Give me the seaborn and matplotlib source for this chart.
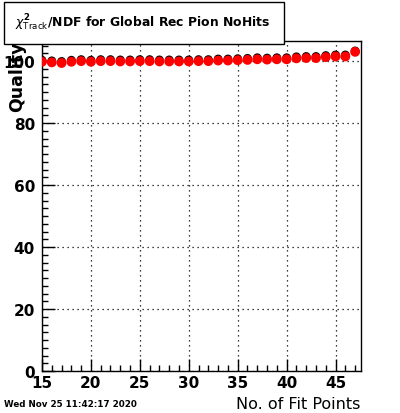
import matplotlib
matplotlib.use("Agg")
import matplotlib.pyplot as plt
import seaborn as sns
import numpy as np
from matplotlib.ticker import MultipleLocator
from matplotlib.patches import Rectangle

fit_points = list(range(15, 48))
quality_red = [99.8, 99.6, 99.4, 99.8, 100.0, 99.8, 100.0, 100.0, 99.9, 99.9,
               100.0, 100.0, 99.9, 99.9, 99.9, 99.9, 100.0, 100.0, 100.2, 100.2,
               100.3, 100.4, 100.6, 100.5, 100.6, 100.6, 100.9, 101.0, 101.0, 101.3,
               101.5, 101.5, 103.0]
quality_black = [100.3, 100.1, 99.9, 100.3, 100.5, 100.3, 100.5, 100.5, 100.4, 100.4,
                 100.5, 100.5, 100.4, 100.4, 100.4, 100.4, 100.5, 100.5, 100.7, 100.7,
                 100.8, 100.9, 101.1, 101.0, 101.1, 101.1, 101.4, 101.5, 101.5, 101.8,
                 102.0, 102.0, 103.3]

title_text = r"$\chi^{\mathbf{2}}_{\rm Track}$/NDF for Global Rec Pion NoHits"
x_label = "No. of Fit Points"
y_label = "Quality"
date_text = "Wed Nov 25 11:42:17 2020"

sns.set_style("white")
plt.rcParams['font.family'] = ['DejaVu Sans']
plt.rcParams['text.color'] = 'black'
plt.rcParams['xtick.color'] = 'black'
plt.rcParams['ytick.color'] = 'black'

W, H = 400, 414
fig = plt.figure(figsize=(W / 100, H / 100), dpi=100)
L, R, T, B = 42, 361, 42, 372
ax = fig.add_axes([L / W, 1 - B / H, (R - L) / W, (B - T) / H])

sns.scatterplot(x=fit_points, y=quality_black, color="black", s=40,
                edgecolor="none", linewidth=0, ax=ax, zorder=3)
sns.scatterplot(x=fit_points, y=quality_red, color="red", s=50,
                edgecolor="none", linewidth=0, ax=ax, zorder=4)

ax.set_xlim(15, 47.6)
ax.set_ylim(0, 106.5)
ax.xaxis.set_major_locator(MultipleLocator(5))
ax.xaxis.set_minor_locator(MultipleLocator(1))
ax.yaxis.set_major_locator(MultipleLocator(20))
ax.yaxis.set_minor_locator(MultipleLocator(2.5))
ax.tick_params(which="both", bottom=True, left=True, top=False, right=False)
ax.tick_params(which="major", direction="in", length=9, width=1, color="black",
               labelsize=11, pad=3, labelcolor="black")
ax.tick_params(which="minor", direction="in", length=4.5, width=1, color="black")
ax.tick_params(axis="y", which="major", pad=5)
for lab in ax.get_xticklabels() + ax.get_yticklabels():
    lab.set_fontweight("bold")
ax.grid(True, which="major", linestyle=(0, (1, 3)), color="black", linewidth=0.9)
for s in ax.spines.values():
    s.set_visible(True)
    s.set_color("black")
    s.set_linewidth(1)
ax.set_xlabel("")
ax.set_ylabel("")

fig.text(360 / W, 1 - 405 / H, x_label, ha="right", va="center", fontsize=11.5)
fig.text(17 / W, 1 - 42 / H, y_label, rotation=90, ha="center", va="top",
         fontsize=12.5, fontweight="bold")
fig.text(4 / W, 1 - 405 / H, date_text, ha="left", va="center", fontsize=6.3,
         fontweight="bold")

fig.patches.append(Rectangle((4 / W, 1 - 45 / H), 280 / W, 42 / H,
                             transform=fig.transFigure, facecolor="white",
                             edgecolor="black", linewidth=1, zorder=10))
fig.text(15 / W, 1 - 23 / H, title_text, ha="left", va="center",
         fontsize=8.9, fontweight="bold", zorder=11)

fig.savefig("out.png", dpi=100)
